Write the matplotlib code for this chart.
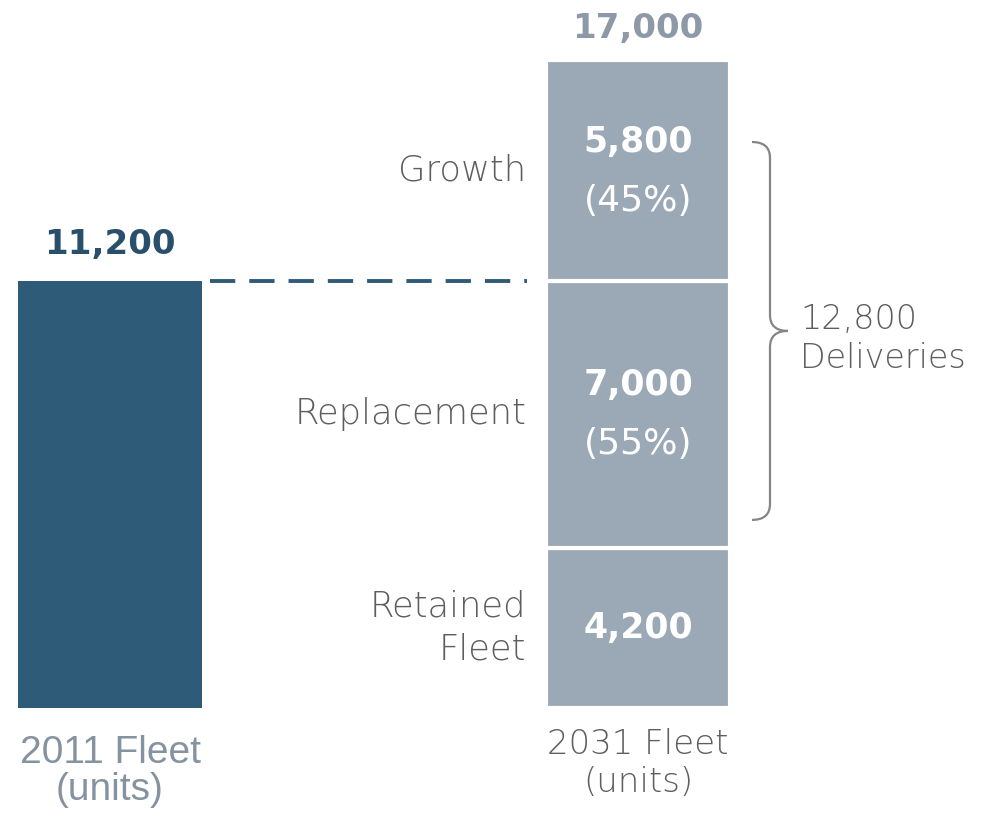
import matplotlib
matplotlib.use('Agg')
import matplotlib.pyplot as plt
from matplotlib.path import Path
from matplotlib.patches import PathPatch

# data
fleet_2011 = 11200
segments = ['Retained\nFleet', 'Replacement', 'Growth']
seg_values = [4200, 7000, 5800]
seg_pcts = [None, '55%', '45%']
total_2031 = sum(seg_values)
deliveries = seg_values[1] + seg_values[2]
bar_names = ['2011 Fleet\n(units)', '2031 Fleet\n(units)']

dark_blue = '#2e5b78'
grey_bar = '#9ba8b6'
grey_text = '#5e5e5e'
thin = dict(family='DejaVu Sans', fontweight='light', color=grey_text)

fig = plt.figure(figsize=(9.88, 8.21), dpi=100)
ax = fig.add_axes([0, 0, 1, 1])

# pixel-based layout: bar centres at x=0 and x=1
px = 528.0
w = 184 / px
ax.set_xlim(-110 / px, (988 - 110) / px)
scale = total_2031 / 648.0
ax.set_ylim(-113 * scale, total_2031 + 60 * scale)
ax.axis('off')

ax.bar(0, fleet_2011, width=w, color=dark_blue, linewidth=0)

bottom = 0
for name, v, pct in zip(segments, seg_values, seg_pcts):
    ax.bar(1, v, width=w, bottom=bottom, color=grey_bar,
           edgecolor='white', linewidth=3)
    mid = bottom + v / 2
    if pct is None:
        ax.text(1, mid, '{:,}'.format(v), ha='center', va='center',
                color='white', fontsize=25, fontweight='bold',
                family='DejaVu Sans')
    else:
        ax.text(1, mid + 29 * scale, '{:,}'.format(v), ha='center',
                va='center', color='white', fontsize=25,
                fontweight='bold', family='DejaVu Sans')
        ax.text(1, mid - 30 * scale, '({})'.format(pct), ha='center',
                va='center', color='white', fontsize=26,
                family='DejaVu Sans')
    ax.text(1 - w / 2 - 20 / px, mid, name, ha='right', va='center',
            fontsize=25.5, linespacing=1.3, **thin)
    bottom += v

# totals above bars
ax.text(0, fleet_2011 + 20 * scale, '{:,}'.format(fleet_2011), ha='center',
        va='bottom', color='#2a4f6b', fontsize=24.5, fontweight='bold',
        family='DejaVu Sans')
ax.text(1, total_2031 + 15 * scale, '{:,}'.format(total_2031), ha='center',
        va='bottom', color='#8d99a6', fontsize=24.5, fontweight='bold',
        family='DejaVu Sans')

# dashed link
ax.plot([(210 - 110) / px, (527 - 110) / px], [fleet_2011, fleet_2011],
        color=dark_blue, lw=2.8, dashes=(6.5, 3.6), solid_capstyle='butt')

# bar names below
ax.text(0, -27 * scale, bar_names[0], ha='center', va='top',
        color='#8593a1', fontsize=28, family='Liberation Sans',
        linespacing=1.05)
ax.text(1, -20 * scale, bar_names[1], ha='center', va='top',
        fontsize=24.5, linespacing=1.2, **thin)

# curly bracket over the deliveries
top = total_2031 - 82 * scale
bot = seg_values[0] + 28 * scale
mid = (top + bot) / 2
x0 = (752 - 110) / px
x1 = (770 - 110) / px
x2 = (788 - 110) / px
r = 16 * scale
codes = [Path.MOVETO, Path.CURVE3, Path.CURVE3, Path.LINETO,
         Path.CURVE3, Path.CURVE3, Path.MOVETO, Path.CURVE3, Path.CURVE3,
         Path.LINETO, Path.CURVE3, Path.CURVE3]
verts = [(x0, top), (x1, top), (x1, top - r), (x1, mid + r),
         (x1, mid), (x2, mid), (x2, mid), (x1, mid), (x1, mid - r),
         (x1, bot + r), (x1, bot), (x0, bot)]
ax.add_patch(PathPatch(Path(verts, codes), fill=False, edgecolor='#858585',
                       lw=1.6))

ax.text(x2 + 12 / px, mid - 8 * scale, '{:,}\nDeliveries'.format(deliveries),
        ha='left', va='center', fontsize=24, linespacing=1.25, **thin)

fig.savefig('out.png', dpi=100, facecolor='white')
